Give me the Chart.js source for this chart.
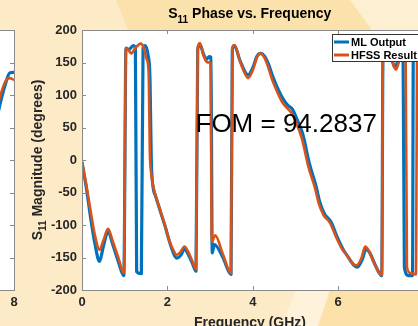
<!DOCTYPE html>
<html><head><meta charset="utf-8">
<script src="https://cdn.jsdelivr.net/npm/chart.js@4.4.0/dist/chart.umd.min.js"></script>
<style>
html,body{margin:0;padding:0;width:418px;height:326px;overflow:hidden;background:#FDEBC8;}
#main{position:absolute;left:0;top:0;z-index:1;}
#left{position:absolute;left:-86px;top:0;z-index:2;}
</style></head><body>
<canvas id="main" width="440" height="326"></canvas>
<canvas id="left" width="110" height="326"></canvas>
<script>
// ---- data ----
const mlFreq    = [0,0.10,0.20,0.30,0.41,0.50,0.61,0.72,0.85,0.98,1.03,1.10,1.20,1.25,1.28,1.39,1.43,1.48,1.55,1.59,1.63,1.72,1.84,1.96,2.07,2.22,2.31,2.40,2.50,2.58,2.67,2.71,2.76,2.85,2.92,2.98,3.02,3.05,3.10,3.30,3.49,3.52,3.57,3.70,3.89,4.00,4.10,4.19,4.27,4.37,4.46,4.57,4.70,4.82,4.93,5.02,5.17,5.32,5.48,5.57,5.68,5.83,5.98,6.12,6.22,6.37,6.45,6.57,6.65,6.74,6.87,7.02,7.05,7.15,7.25,7.33,7.42,7.52,7.55,7.65,7.74,7.76,8.00];
const mlPhase   = [-3,-42,-88,-128,-156,-133,-110,-130,-156,-178,172,170,176,172,-172,-175,172,176,160,130,-15,-55,-80,-105,-130,-151,-147,-137,-147,-158,-171,170,178,162,155,159,158,-143,-130,-150,-176,170,176,153,131,142,160,164,160,147,130,112,95,84,78,65,40,-4,-40,-65,-83,-95,-119,-138,-148,-162,-165,-152,-137,-143,-162,-178,170,168,156,142,155,152,-165,-178,-178,170,168];
const hfssFreq  = [0,0.10,0.20,0.30,0.41,0.50,0.61,0.72,0.85,0.98,1.03,1.10,1.15,1.25,1.37,1.45,1.51,1.56,1.59,1.62,1.70,1.82,1.94,2.05,2.15,2.21,2.30,2.40,2.50,2.58,2.67,2.71,2.76,2.85,2.92,2.98,3.01,3.04,3.12,3.30,3.49,3.52,3.57,3.70,3.80,3.89,4.00,4.10,4.17,4.25,4.35,4.44,4.55,4.68,4.80,4.91,5.00,5.15,5.30,5.46,5.55,5.66,5.81,5.96,6.10,6.20,6.35,6.43,6.55,6.63,6.72,6.85,7.02,7.05,7.15,7.25,7.35,7.45,7.58,7.61,7.70,7.82,7.85,8.00];
const hfssPhase = [-3,-38,-78,-115,-138,-124,-106,-125,-150,-174,172,168,164,172,179,172,156,135,10,-20,-49,-75,-100,-125,-140,-146,-142,-133,-143,-155,-168,172,180,160,151,150,148,-126,-116,-145,-174,172,177,152,135,126,138,158,164,160,145,126,108,90,80,72,60,33,-10,-44,-68,-85,-97,-120,-138,-146,-160,-162,-150,-133,-140,-160,-177,172,170,155,139,155,158,-165,-174,-176,170,165];
// left (neighbouring) panel, only its right end is visible
const leftMlFreq    = [6.0,7.3,7.55,7.67,7.79,7.9,8.0];
const leftMlPhase   = [-60,0,50,85,115,134,135];
const leftHfssFreq  = [6.0,7.3,7.55,7.67,7.79,7.9,8.0];
const leftHfssPhase = [-50,20,70,97,120,126,123];
const xTicks = [0,2,4,6,8];
const yTicks = [-200,-150,-100,-50,0,50,100,150,200];
const seriesNames = ['ML Output','HFSS Result'];
const seriesColors = ['#0072BD','#D95319'];
const titleParts = ['S','11',' Phase vs. Frequency'];
const yLabelParts = ['S','11',' Magnitude (degrees)'];
const xLabel = 'Frequency (GHz)';
const fomText = 'FOM = 94.2837';

const FONT = '"Liberation Sans", Arial, Helvetica, sans-serif';
const pts = (xs, ys) => xs.map((x,i)=>({x, y:ys[i]}));

function drawBackground(ctx){
  ctx.fillStyle='#FDEBC8'; ctx.fillRect(0,0,440,326);
  ctx.fillStyle='#FBE2AC';
  ctx.beginPath(); ctx.moveTo(116,0); ctx.lineTo(440,0); ctx.lineTo(440,30); ctx.lineTo(128,30); ctx.closePath(); ctx.fill();
  ctx.fillStyle='#FDEFD2';
  ctx.beginPath(); ctx.moveTo(350,0); ctx.lineTo(440,0); ctx.lineTo(440,30); ctx.lineTo(372,30); ctx.closePath(); ctx.fill();
  ctx.fillStyle='#FEF2DA';
  ctx.beginPath(); ctx.moveTo(282,326); ctx.lineTo(296,290); ctx.lineTo(330,290); ctx.lineTo(318,326); ctx.closePath(); ctx.fill();
  ctx.fillStyle='#FCE2A8';
  ctx.beginPath(); ctx.moveTo(318,326); ctx.lineTo(330,290); ctx.lineTo(440,290); ctx.lineTo(440,326); ctx.closePath(); ctx.fill();
}

const framePlugin = {
  id:'frame',
  beforeDraw(chart, args, opts){
    const ctx=chart.ctx, a=chart.chartArea;
    ctx.save();
    if(opts.bg) drawBackground(ctx);
    ctx.fillStyle='#ffffff';
    ctx.fillRect(a.left,a.top,a.right-a.left,a.bottom-a.top);
    ctx.restore();
  },
  afterDraw(chart, args, opts){
    const ctx=chart.ctx, a=chart.chartArea, xs=chart.scales.x, ys=chart.scales.y;
    ctx.save();
    ctx.strokeStyle='#8a8a8a'; ctx.lineWidth=1;
    ctx.strokeRect(Math.round(a.left)+0.5, Math.round(a.top)+0.5, Math.round(a.right-a.left), Math.round(a.bottom-a.top));
    const L=4;
    ctx.beginPath();
    xTicks.forEach(v=>{ if(v<xs.min) return; const p=Math.round(xs.getPixelForValue(v))+0.5;
      ctx.moveTo(p,a.bottom); ctx.lineTo(p,a.bottom-L); ctx.moveTo(p,a.top); ctx.lineTo(p,a.top+L); });
    yTicks.forEach(v=>{ const p=Math.round(ys.getPixelForValue(v))+0.5;
      ctx.moveTo(a.left,p); ctx.lineTo(a.left+L,p); ctx.moveTo(a.right,p); ctx.lineTo(a.right-L,p); });
    ctx.stroke();
    if(opts.texts){
      const cx=(a.left+a.right)/2;
      ctx.fillStyle='#000';
      ctx.textBaseline='alphabetic';
      const big='bold 14px '+FONT, small='bold 10px '+FONT;
      ctx.font=big; const w0=ctx.measureText(titleParts[0]).width, w2=ctx.measureText(titleParts[2]).width;
      ctx.font=small; const w1=ctx.measureText(titleParts[1]).width;
      let x=cx-(w0+w1+w2)/2-3; const by=17.5;
      ctx.font=big; ctx.textAlign='left'; ctx.fillText(titleParts[0],x,by); x+=w0;
      ctx.font=small; ctx.fillText(titleParts[1],x,by+5); x+=w1;
      ctx.font=big; ctx.fillText(titleParts[2],x,by);
      ctx.save();
      ctx.translate(41.5,(a.top+a.bottom)/2); ctx.rotate(-Math.PI/2);
      ctx.fillStyle='#262626';
      ctx.font=big; const v0=ctx.measureText(yLabelParts[0]).width, v2=ctx.measureText(yLabelParts[2]).width;
      ctx.font=small; const v1=ctx.measureText(yLabelParts[1]).width;
      let yx=-(v0+v1+v2)/2;
      ctx.font=big; ctx.fillText(yLabelParts[0],yx,0); yx+=v0;
      ctx.font=small; ctx.fillText(yLabelParts[1],yx,4); yx+=v1;
      ctx.font=big; ctx.fillText(yLabelParts[2],yx,0);
      ctx.restore();
      ctx.fillStyle='#262626'; ctx.font=big; ctx.textAlign='center';
      ctx.fillText(xLabel, 250, 327);
      ctx.fillStyle='#000'; ctx.font='26px '+FONT; ctx.textAlign='left';
      ctx.fillText(fomText, 195.5, 132);
      const lx=332.5, ly=34.5, lw=92, lh=27;
      ctx.fillStyle='#fff'; ctx.fillRect(lx,ly,lw,lh);
      ctx.strokeStyle='#333'; ctx.lineWidth=1; ctx.strokeRect(lx,ly,lw,lh);
      ctx.font='bold 11px '+FONT; ctx.textBaseline='middle';
      seriesNames.forEach((n,i)=>{
        const yy=42+i*13;
        ctx.strokeStyle=seriesColors[i]; ctx.lineWidth=3;
        ctx.beginPath(); ctx.moveTo(334,yy); ctx.lineTo(349,yy); ctx.stroke();
        ctx.fillStyle='#000'; ctx.fillText(n,351,yy+0.5);
      });
    }
    ctx.restore();
  }
};

function makeChart(id, mlX, mlY, hfX, hfY, xmin, pad, bg, texts, yWidth){
  return new Chart(document.getElementById(id), {
    type:'line',
    data:{ datasets:[
      {label:seriesNames[0], data:pts(mlX,mlY), borderColor:seriesColors[0], borderWidth:3.2, pointRadius:0, cubicInterpolationMode:'monotone', borderJoinStyle:'round', order:2, fill:false},
      {label:seriesNames[1], data:pts(hfX,hfY), borderColor:seriesColors[1], borderWidth:2.6, pointRadius:0, cubicInterpolationMode:'monotone', borderJoinStyle:'round', order:1, fill:false}
    ]},
    options:{
      responsive:false, animation:false, devicePixelRatio:1,
      layout:{padding:pad},
      plugins:{legend:{display:false}, tooltip:{enabled:false}, title:{display:false}, frame:{bg, texts}},
      scales:{
        x:{type:'linear', min:xmin, max:8,
           afterBuildTicks:s=>{s.ticks=xTicks.filter(v=>v>=xmin).map(v=>({value:v}));},
           grid:{display:false, drawTicks:false}, border:{display:false},
           ticks:{font:{family:FONT, size:13, weight:'bold'}, color:'#262626', padding:5, maxRotation:0, autoSkip:false},
           afterFit:s=>{s.height=36;}},
        y:{type:'linear', min:-200, max:200, display: yWidth>0 ? true : false,
           afterBuildTicks:s=>{s.ticks=yTicks.map(v=>({value:v}));},
           grid:{display:false, drawTicks:false}, border:{display:false},
           ticks:{font:{family:FONT, size:13, weight:'bold'}, color:'#262626', padding:5, autoSkip:false},
           afterFit:s=>{s.width=yWidth;}}
      }
    },
    plugins:[framePlugin]
  });
}
makeChart('main', mlFreq, mlPhase, hfssFreq, hfssPhase, 0, {left:0, right:16.4, top:30, bottom:0}, true, true, 82);
makeChart('left', leftMlFreq, leftMlPhase, leftHfssFreq, leftHfssPhase, 6, {left:14.6, right:10, top:30, bottom:0}, false, false, 0);
</script>
</body></html>
